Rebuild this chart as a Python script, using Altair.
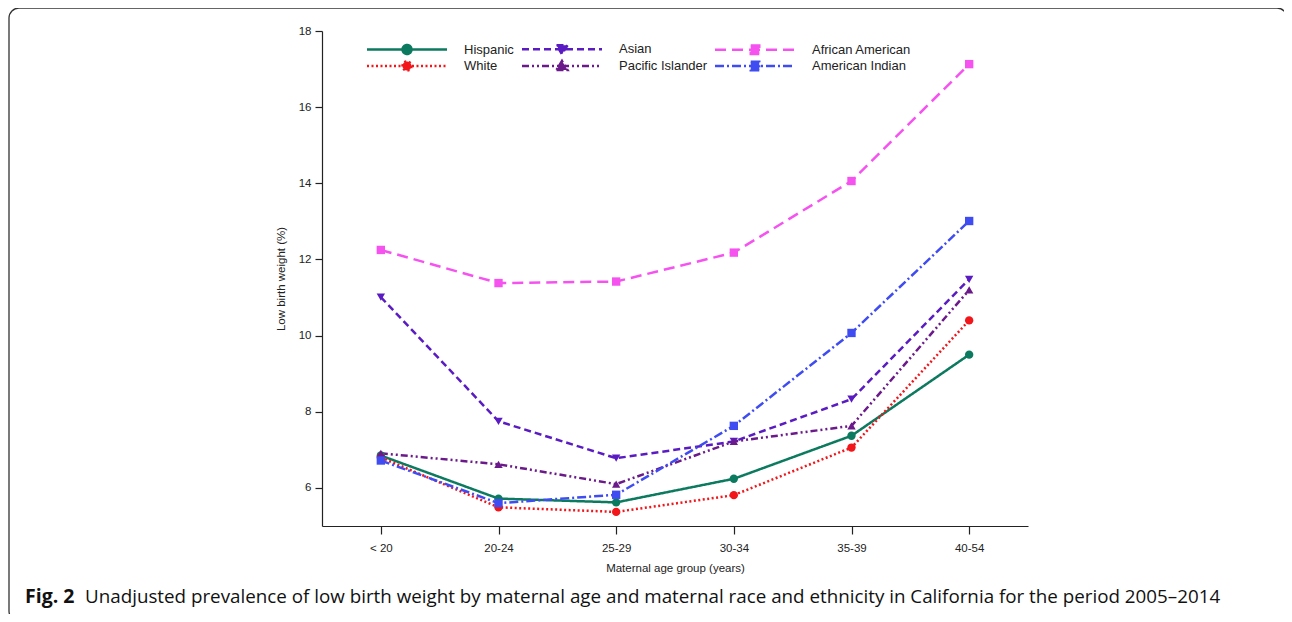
import altair as alt
import pandas as pd

ages = ["< 20", "20-24", "25-29", "30-34", "35-39", "40-54"]
series_names = ["Hispanic", "White", "Asian", "Pacific Islander", "African American", "American Indian"]
hispanic = [6.85, 5.72, 5.62, 6.24, 7.37, 9.50]
white = [6.80, 5.49, 5.37, 5.81, 7.06, 10.40]
asian = [11.01, 7.75, 6.78, 7.22, 8.33, 11.48]
pacific = [6.91, 6.62, 6.10, 7.22, 7.63, 11.20]
african_american = [12.25, 11.38, 11.42, 12.18, 14.06, 17.13]
american_indian = [6.72, 5.60, 5.82, 7.63, 10.07, 13.01]
y_ticks = [6, 8, 10, 12, 14, 16, 18]

values = [hispanic, white, asian, pacific, african_american, american_indian]
rows = []
for name, vals in zip(series_names, values):
    for a, v in zip(ages, vals):
        rows.append({"series": name, "age": a, "value": v})
df = pd.DataFrame(rows)

legend_order = series_names
colors = {
    "Hispanic": "#0b7a5e",
    "White": "#f2161b",
    "Asian": "#5a1cc2",
    "Pacific Islander": "#6b1a8a",
    "African American": "#f552f0",
    "American Indian": "#3f4cf2",
}
dashes = {
    "Hispanic": [1, 0],
    "White": [2, 2.5],
    "Asian": [7, 4],
    "Pacific Islander": [7, 3, 2, 3, 2, 3],
    "African American": [11, 6],
    "American Indian": [9, 3, 2, 3],
}
shapes = {
    "Hispanic": "circle",
    "White": "circle",
    "Asian": "triangle-down",
    "Pacific Islander": "triangle-up",
    "African American": "square",
    "American Indian": "square",
}
LINE = "M-8,0L8,0"
marker_paths = {
    "circle": "M0.9,0A0.9,0.9,0,1,1,-0.9,0A0.9,0.9,0,1,1,0.9,0Z",
    "triangle-down": "M-1.1,-0.8L1.1,-0.8L0,1.0Z",
    "triangle-up": "M-1.1,0.8L1.1,0.8L0,-1.0Z",
    "square": "M-0.85,-0.85L0.85,-0.85L0.85,0.85L-0.85,0.85Z",
}
legend_paths = [LINE + marker_paths[shapes[s]] for s in legend_order]

FONT = "Liberation Sans"
TXT = "#222222"

def cscale():
    return alt.Scale(domain=legend_order, range=[colors[s] for s in legend_order])

def dscale():
    return alt.Scale(domain=legend_order, range=[dashes[s] for s in legend_order])

base = alt.Chart(df).encode(
    x=alt.X("age:N", sort=ages, scale=alt.Scale(domain=ages, padding=0.5),
            title="Maternal age group (years)",
            axis=alt.Axis(labelAngle=0, tickSize=8, labelPadding=8, titlePadding=9)),
    y=alt.Y("value:Q", scale=alt.Scale(domain=[5, 18], nice=False, zero=False),
            title="Low birth weight (%)",
            axis=alt.Axis(values=y_ticks, tickSize=7, labelPadding=4, titlePadding=12, grid=False)),
)

lines = base.mark_line(strokeWidth=2.5).encode(
    color=alt.Color("series:N", scale=cscale(), legend=None),
    strokeDash=alt.StrokeDash("series:N", scale=dscale(), legend=None),
)
points = base.mark_point(filled=True, size=70, opacity=1).encode(
    color=alt.Color("series:N", scale=cscale(), legend=None),
    shape=alt.Shape("series:N", scale=alt.Scale(domain=legend_order, range=[shapes[s] for s in legend_order]), legend=None),
)

leg = alt.Legend(title=None, orient="none", legendX=78.5, legendY=11.5, columns=3,
                 symbolSize=100, symbolStrokeWidth=2.5, symbolOpacity=1, symbolOffset=0,
                 labelOffset=50.5, labelFont=FONT, labelFontSize=13, labelColor=TXT,
                 rowPadding=-6, columnPadding=2, padding=0)
legend_layer = base.mark_point(opacity=0, size=100, strokeWidth=2.5, filled=True).encode(
    fill=alt.Fill("series:N", scale=cscale(), legend=leg),
    stroke=alt.Stroke("series:N", scale=cscale(), legend=leg),
    shape=alt.Shape("series:N", scale=alt.Scale(domain=legend_order, range=legend_paths), legend=leg),
    strokeDash=alt.StrokeDash("series:N", scale=dscale(), legend=leg),
)

one = pd.DataFrame({"k": [0]})
frame = alt.Chart(one).mark_rect(fillOpacity=0, stroke="#333333", strokeWidth=1.3, cornerRadius=10).encode(
    x=alt.value(-313), x2=alt.value(965), y=alt.value(-23), y2=alt.value(590)
)
cap_df = pd.DataFrame({"a": ["Fig. 2"], "b": ["Unadjusted prevalence of low birth weight by maternal age and maternal race and ethnicity in California for the period 2005\u20132014"]})
cap1 = alt.Chart(cap_df).mark_text(align="left", baseline="alphabetic", font="Open Sans", fontSize=19.5,
                                   fontWeight="bold", color="#111111").encode(
    x=alt.value(-297), y=alt.value(572), text="a:N")
cap2 = alt.Chart(cap_df).mark_text(align="left", baseline="alphabetic", font="Open Sans", fontSize=18.8,
                                   color="#111111").encode(
    x=alt.value(-237), y=alt.value(572), text="b:N")

chart = alt.layer(frame, lines, points, legend_layer, cap1, cap2).resolve_scale(
    color="independent", fill="independent", stroke="independent",
    shape="independent", strokeDash="independent"
).properties(
    width=706, height=495,
    autosize=alt.AutoSizeParams(type="none"),
    padding={"left": 314, "top": 23, "right": 256, "bottom": 88},
).configure_view(stroke=None).configure_axis(
    domainColor=TXT, tickColor=TXT, labelColor=TXT, titleColor=TXT,
    labelFont=FONT, titleFont=FONT, labelFontSize=11.5, titleFontSize=11.5,
    titleFontWeight="normal", domainWidth=1.2, tickWidth=1.2,
)

chart.save("out.html", embed_options={"renderer": "svg", "actions": False})
